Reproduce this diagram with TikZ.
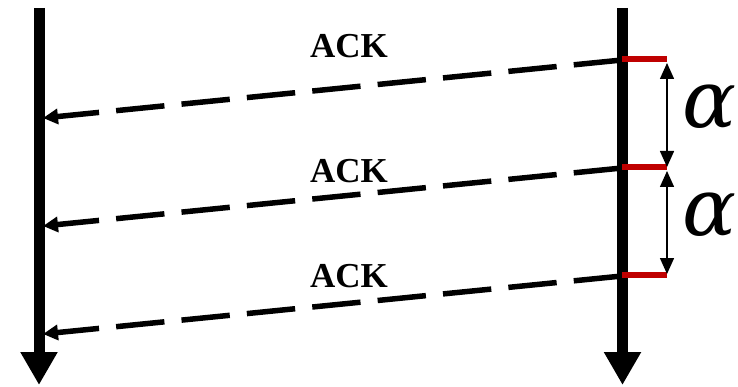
\documentclass[tikz,border=0pt]{standalone}
\usepackage{fontspec}
\setmainfont{Liberation Serif}
\newfontfamily\alphafont{DejaVu Serif}
\usetikzlibrary{arrows.meta}
\tikzset{
  timeline/.style={line width=11pt, -{Triangle[length=33pt,width=35pt]}},
  ackarrow/.style={line width=5.5pt, dash pattern=on 48.5pt off 17.2pt, -{Triangle[length=15pt,width=15pt]}},
  redtick/.style={draw=red!75!black, line width=6pt},
  interval/.style={line width=1.5pt, {Triangle[length=16pt,width=14pt]}-{Triangle[length=16pt,width=14pt]}},
  acklabel/.style={font=\fontsize{35}{35}\selectfont\bfseries, anchor=base, inner sep=0pt},
  alphalabel/.style={font=\alphafont\itshape\fontsize{80}{80}\selectfont, anchor=base west, inner sep=0pt}
}
\begin{document}
\begin{tikzpicture}[x=1pt,y=-1pt]
\useasboundingbox (0,0) rectangle (738,387);
% time lines
\coordinate (Ltop) at (39,8);
\coordinate (Lbot) at (39,385);
\coordinate (Rtop) at (622.5,8);
\coordinate (Rbot) at (622.5,385);
\draw[timeline] (Ltop) -- (Lbot);
\draw[timeline] (Rtop) -- (Rbot);
% ACK arrows
\coordinate (s1) at (622,60);  \coordinate (e1) at (43,118);
\coordinate (s2) at (622,168); \coordinate (e2) at (43,226);
\coordinate (s3) at (622,276); \coordinate (e3) at (43,334);
\draw[ackarrow] (s1) -- (e1);
\draw[ackarrow] (s2) -- (e2);
\draw[ackarrow] (s3) -- (e3);
% red ticks
\coordinate (t1a) at (622,59);  \coordinate (t1b) at (667,59);
\coordinate (t2a) at (622,167); \coordinate (t2b) at (667,167);
\coordinate (t3a) at (622,275); \coordinate (t3b) at (667,275);
\draw[redtick] (t1a) -- (t1b);
\draw[redtick] (t2a) -- (t2b);
\draw[redtick] (t3a) -- (t3b);
% labels
\node[acklabel] (ack1) at (349,58) {ACK};
\node[acklabel] (ack2) at (349,183) {ACK};
\node[acklabel] (ack3) at (349,287) {ACK};
% intervals
\coordinate (i1a) at (667,63);  \coordinate (i1b) at (667,167);
\coordinate (i2a) at (667,171); \coordinate (i2b) at (667,274);
\draw[interval] (i1a) -- (i1b);
\draw[interval] (i2a) -- (i2b);
\node[alphalabel] (al1) at (682,128) {α};
\node[alphalabel] (al2) at (682,236) {α};
\end{tikzpicture}
\end{document}
